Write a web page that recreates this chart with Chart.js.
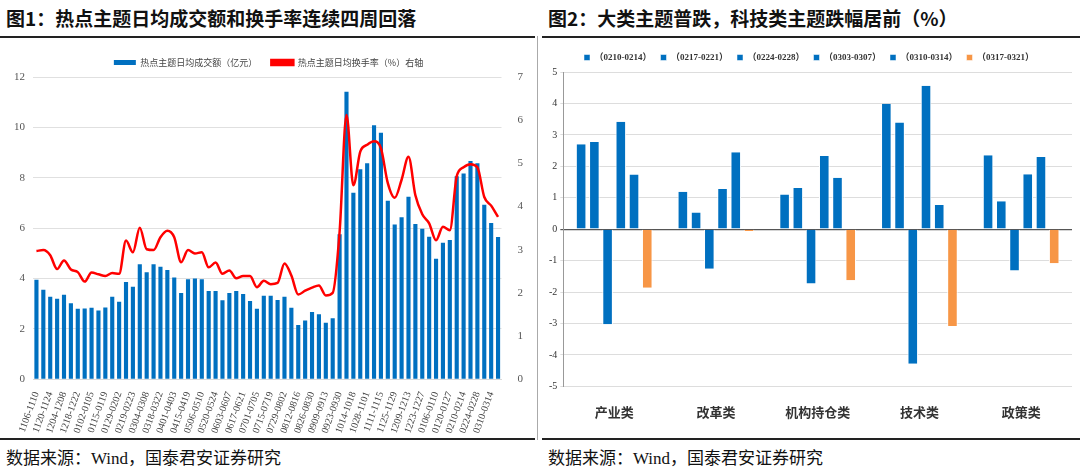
<!DOCTYPE html>
<html><head><meta charset="utf-8">
<script src="https://cdn.jsdelivr.net/npm/chart.js@4"></script>
<style>
body{margin:0;width:1080px;height:476px;background:#fff;position:relative;overflow:hidden;font-family:"Liberation Serif","Noto Sans CJK SC",serif}
.t{position:absolute;top:4px;font-family:"Noto Sans CJK SC";font-weight:bold;font-size:19px;color:#111}
.src{position:absolute;top:444px;font-family:"Liberation Serif","Noto Sans CJK SC";font-size:17px;color:#111}
.hl{position:absolute;height:2px;background:#222}
.box{position:absolute;top:40px;height:398px}
</style></head><body>
<div class="t" style="left:6px">图1：热点主题日均成交额和换手率连续四周回落</div>
<div class="t" style="left:548px">图2：大类主题普跌，科技类主题跌幅居前（%）</div>
<div class="hl" style="left:0;top:36px;width:535px"></div>
<div class="hl" style="left:542px;top:36px;width:538px"></div>
<div class="hl" style="left:0;top:438px;width:535px"></div>
<div class="hl" style="left:542px;top:438px;width:538px"></div>
<div style="position:absolute;left:537px;top:36px;width:1px;height:404px;background:#aaa"></div>
<div class="src" style="left:6px">数据来源：Wind，国泰君安证券研究</div>
<div class="src" style="left:548px">数据来源：Wind，国泰君安证券研究</div>
<div class="box" style="left:0;width:535px"><canvas id="c1"></canvas></div>
<div class="box" style="left:542px;width:538px"><canvas id="c2"></canvas></div>
<script>
const weeks = ['1106-1110','1113-1117','1120-1124','1127-1201','1204-1208','1211-1215','1218-1222','1225-1229','0102-0105','0108-0112','0115-0119','0122-0126','0129-0202','0205-0208','0219-0223','0226-0301','0304-0308','0311-0315','0318-0322','0325-0329','0401-0403','0408-0412','0415-0419','0422-0426','0506-0510','0513-0517','0520-0524','0527-0531','0603-0607','0611-0614','0617-0621','0624-0628','0701-0705','0708-0712','0715-0719','0722-0726','0729-0802','0805-0809','0812-0816','0819-0823','0826-0830','0902-0906','0909-0913','0918-0920','0923-0930','1008-1011','1014-1018','1021-1025','1028-1101','1104-1108','1111-1115','1118-1122','1125-1129','1202-1206','1209-1213','1216-1220','1223-1227','1230-0103','0106-0110','0113-0117','0120-0127','0205-0207','0210-0214','0217-0221','0224-0228','0303-0307','0310-0314','0317-0321'];
const turnoverAmt = [3.95,3.55,3.27,3.19,3.35,3.02,2.80,2.81,2.84,2.73,2.85,3.27,3.07,3.86,3.67,4.56,4.25,4.56,4.46,4.34,4.04,3.42,3.97,4.00,3.97,3.50,3.50,3.13,3.42,3.50,3.38,3.10,2.80,3.31,3.31,3.14,3.27,2.84,2.15,2.33,2.67,2.58,2.24,2.42,5.76,11.41,7.40,8.34,8.57,10.08,9.79,7.09,6.14,6.43,7.24,6.16,5.97,5.66,4.78,5.42,5.53,8.06,8.17,8.66,8.57,6.93,6.20,5.65];
const turnoverRate = [2.97,2.99,2.87,2.55,2.75,2.54,2.48,2.26,2.47,2.43,2.39,2.46,2.44,3.21,2.94,3.51,3.01,2.99,3.29,3.44,3.29,2.71,2.99,2.91,2.94,2.59,2.70,2.44,2.52,2.34,2.39,2.39,2.13,2.28,2.20,2.23,2.68,2.40,1.96,2.05,2.12,2.17,1.94,2.00,3.41,6.12,4.49,5.27,5.43,5.51,5.35,4.54,4.20,4.62,5.15,4.26,3.82,3.61,3.22,3.53,3.45,4.70,4.91,4.98,4.91,4.22,4.02,3.76];

const themes = ['产业类','改革类','机构持仓类','技术类','政策类'];
const periods = ['（0210-0214）','（0217-0221）','（0224-0228）','（0303-0307）','（0310-0314）','（0317-0321）'];
const w0210 = [2.70,1.19,1.10,3.99,2.35];
const w0217 = [2.77,0.53,1.31,3.39,0.89];
const w0224 = [-3.02,-1.26,-1.73,-4.28,-1.31];
const w0303 = [3.42,1.28,2.33,4.56,1.75];
const w0310 = [1.74,2.45,1.64,0.77,2.30];
const w0317 = [-1.86,-0.06,-1.62,-3.08,-1.08];

const BLUE = '#0070C0', ORANGE = '#F79646';
const tickFont = {family:'"Liberation Serif","Noto Sans CJK SC"', size:11};

new Chart(document.getElementById('c1'), {
  data: {
    labels: weeks,
    datasets: [
      {type:'line', label:'热点主题日均换手率（%）右轴', data:turnoverRate, yAxisID:'y1', borderColor:'#FF0000', backgroundColor:'#FF0000', borderWidth:2.5, pointRadius:0, cubicInterpolationMode:'monotone', order:0},
      {type:'bar', label:'热点主题日均成交额（亿元）', data:turnoverAmt, yAxisID:'y', backgroundColor:BLUE, barPercentage:0.6, categoryPercentage:1, order:1}
    ]
  },
  options: {
    responsive:true, maintainAspectRatio:false, animation:false,
    layout:{padding:{left:6,right:4,top:4,bottom:0}},
    plugins:{legend:{reverse:true, labels:{boxWidth:22, boxHeight:5, font:{family:'"Noto Sans CJK SC"', size:9}, color:'#444', padding:14}}},
    scales:{
      x:{grid:{display:false}, border:{color:'#d9d9d9'}, ticks:{autoSkip:false, maxRotation:70, minRotation:70, font:{...tickFont,size:10}, color:'#444', callback:(v,i)=> i%2===0 ? weeks[i] : ''}},
      y:{min:0, max:12, ticks:{stepSize:2, font:tickFont, color:'#555', padding:8}, border:{display:false}, grid:{color:'#e0e0e0', borderDash:[2,2], tickLength:0}},
      y1:{position:'right', min:0, max:7, ticks:{stepSize:1, font:tickFont, color:'#555', padding:8}, border:{display:false}, grid:{display:false}}
    }
  }
});

const cols = [BLUE,BLUE,BLUE,BLUE,BLUE,ORANGE];
const vals = [w0210,w0217,w0224,w0303,w0310,w0317];
new Chart(document.getElementById('c2'), {
  type:'bar',
  data:{labels:themes, datasets: periods.map((p,i)=>({label:p, data:vals[i], backgroundColor:cols[i], borderColor:'#fff', borderWidth:{left:1,right:1}, barPercentage:0.8, categoryPercentage:0.78}))},
  options:{
    responsive:true, maintainAspectRatio:false, animation:false,
    layout:{padding:{left:4,right:8,top:4,bottom:8}},
    plugins:{legend:{labels:{boxWidth:6, boxHeight:6, font:{...tickFont,size:9, weight:'bold'}, color:'#333', padding:9}}},
    scales:{
      x:{grid:{display:false}, border:{display:false}, ticks:{font:{family:'"Noto Sans CJK SC"', size:13, weight:'bold'}, color:'#333', padding:10}},
      y:{min:-5, max:5, ticks:{stepSize:1, font:{...tickFont,size:10}, color:'#333'}, border:{color:'#999'},
         grid:{tickLength:3, color:c=> c.tick.value===0 ? '#555' : '#ddd', lineWidth:c=> c.tick.value===0 ? 1.2 : 1, borderDash:[2,2]}}
    }
  }
});
</script>
</body></html>
